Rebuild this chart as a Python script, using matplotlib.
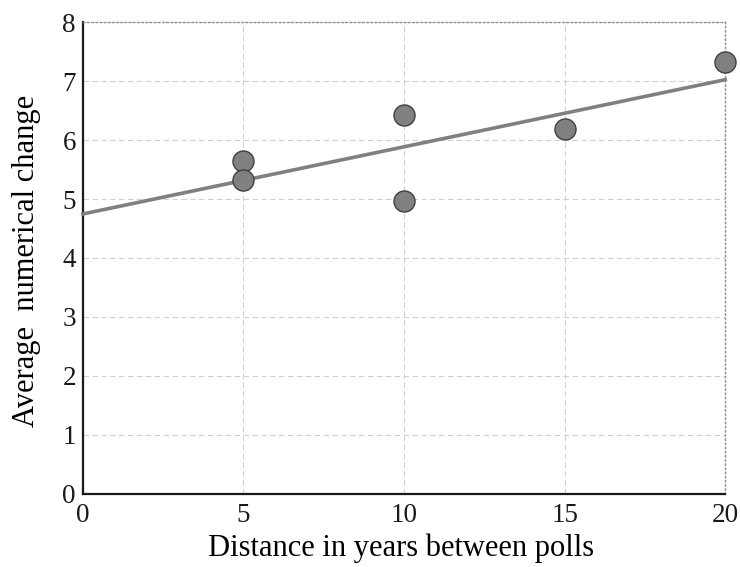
import numpy as np
import matplotlib
matplotlib.use("Agg")
import matplotlib.pyplot as plt

# distance in years between polls vs average numerical change
years = [5, 5, 10, 10, 15, 20]
change = [5.65, 5.32, 6.43, 4.97, 6.18, 7.33]
x_ticks = [0, 5, 10, 15, 20]
y_ticks = [0, 1, 2, 3, 4, 5, 6, 7, 8]

plt.rcParams['font.family'] = ['Liberation Serif', 'DejaVu Serif']

fig = plt.figure(figsize=(7.4, 5.67), dpi=100)
ax = fig.add_axes([0.112, 0.129, 0.868, 0.832])

# least squares trend line
slope, icpt = np.polyfit(years, change, 1)
xs = np.array([0, 20])
ax.plot(xs, icpt + slope * xs, color='#808080', lw=2.6, zorder=3, clip_on=False)
ax.scatter(years, change, s=230, color='#808080', edgecolors='#404040',
           linewidths=1.0, zorder=4, clip_on=False)

ax.set_xlim(0, 20)
ax.set_ylim(0, 8)
ax.set_xticks(x_ticks)
ax.set_yticks(y_ticks)
ax.tick_params(length=0, labelsize=19.5, colors='#1a1a1a')
ax.tick_params(axis='x', pad=6.5)
ax.tick_params(axis='y', pad=5)
ax.grid(True, color='#d0d0d0', ls=(0, (5, 3)), lw=0.8)
ax.set_axisbelow(True)

for s in ['left', 'bottom']:
    ax.spines[s].set_linewidth(1.6)
    ax.spines[s].set_color('#1a1a1a')
for s in ['top', 'right']:
    ax.spines[s].set_linestyle((0, (1, 2)))
    ax.spines[s].set_color('#909090')
    ax.spines[s].set_linewidth(1.0)

ax.set_xlabel('Distance in years between polls', fontsize=22)
ax.set_ylabel('Average  numerical change', fontsize=22)
ax.xaxis.set_label_coords(0.495, -0.083)
ax.yaxis.set_label_coords(-0.065, 0.494)

fig.savefig('out.png', dpi=100)
